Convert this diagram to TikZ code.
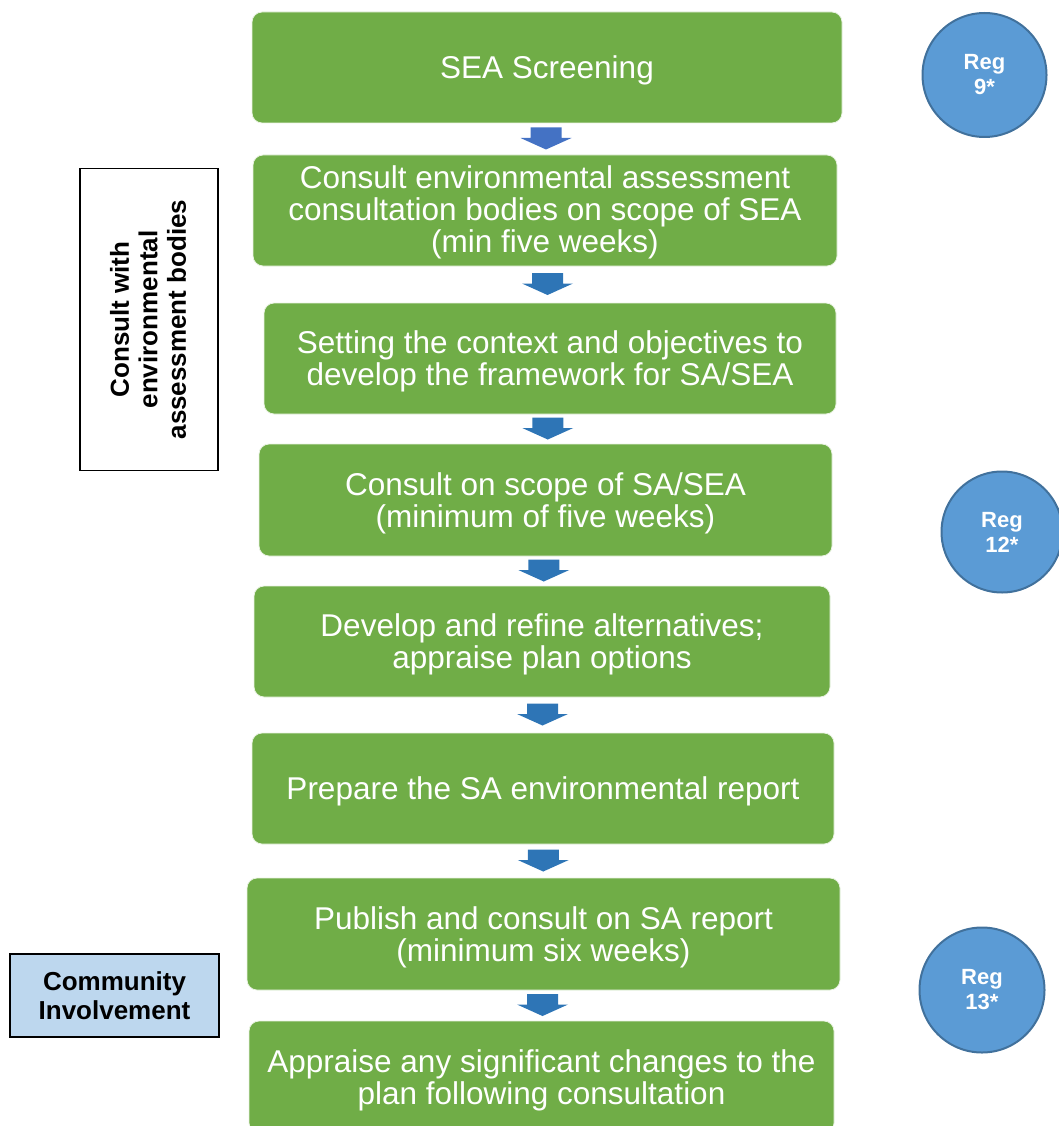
\documentclass[tikz,border=0pt]{standalone}
\usepackage{fontspec}
\setmainfont{Liberation Sans}
\usetikzlibrary{calc}
\definecolor{boxgreen}{HTML}{70AD47}
\definecolor{arrblue}{HTML}{2E75B6}
\definecolor{arrblueA}{HTML}{4472C4}
\definecolor{regfill}{HTML}{5B9BD5}
\definecolor{regline}{HTML}{41719C}
\definecolor{commfill}{HTML}{BDD7EE}
\begin{document}
\begin{tikzpicture}[x=1pt,y=-1pt,
  stepbox/.style={draw=white!85!boxgreen,line width=0.8pt,fill=boxgreen,rounded corners=10pt,inner sep=0pt},
  steptext/.style={text=white,font=\fontsize{31.5}{32}\selectfont,align=center,inner sep=0pt},
  regcircle/.style={circle,draw=regline,line width=2pt,fill=regfill,text=white,
    font=\bfseries\fontsize{22}{25}\selectfont,align=center,inner sep=0pt},
  sidebox/.style={draw=black,line width=1.5pt,font=\bfseries\fontsize{26}{28.5}\selectfont,align=center,inner sep=0pt},
  flowarrow/.style={fill=arrblue}
]
\useasboundingbox (0,0) rectangle (1059,1126);
\clip (0,0) rectangle (1059,1126);

% green step boxes
\node[stepbox,minimum width=590pt,minimum height=111pt] (b1) at (547,67.5) {};
\node[stepbox,minimum width=584pt,minimum height=111pt] (b2) at (545,210.5) {};
\node[stepbox,minimum width=572pt,minimum height=111pt] (b3) at (550,358.5) {};
\node[stepbox,minimum width=573pt,minimum height=112pt] (b4) at (545.5,500) {};
\node[stepbox,minimum width=576pt,minimum height=111pt] (b5) at (542,641.5) {};
\node[stepbox,minimum width=582pt,minimum height=111pt] (b6) at (543,788.5) {};
\node[stepbox,minimum width=593pt,minimum height=112pt] (b7) at (543.5,934) {};
\node[stepbox,minimum width=585pt,minimum height=112pt] (b8) at (541.5,1077) {};

% step texts
\node[steptext] (t1) at ([yshift=-3pt]b1.center) {SEA Screening};
\node[steptext] (t2) at ([yshift=-1.5pt]b2.center) {Consult environmental assessment\\consultation bodies on scope of SEA\\(min five weeks)};
\node[steptext] (t3) at ([yshift=-3pt]b3.center) {Setting the context and objectives to\\develop the framework for SA/SEA};
\node[steptext] (t4) at ([yshift=-3pt]b4.center) {Consult on scope of SA/SEA\\(minimum of five weeks)};
\node[steptext] (t5) at ([yshift=-3pt]b5.center) {Develop and refine alternatives;\\appraise plan options};
\node[steptext] (t6) at ([yshift=-3pt]b6.center) {Prepare the SA environmental report};
\node[steptext] (t7) at ([yshift=-3pt]b7.center) {Publish and consult on SA report\\(minimum six weeks)};
\node[steptext] (t8) at ([yshift=-3pt]b8.center) {Appraise any significant changes to the\\plan following consultation};

% block arrows between steps
\foreach \a/\b/\c in {b1/b2/arrblueA,b2/b3/arrblue,b3/b4/arrblue,b4/b5/arrblue,b5/b6/arrblue,b6/b7/arrblue,b7/b8/arrblue}{
  \fill[\c] let \p1=($(\a.south)!0.5!(\b.north)$) in
    (\x1-15.5pt,\y1+11.5pt) -- (\x1+15.5pt,\y1+11.5pt) -- (\x1+15.5pt,\y1+1pt) -- (\x1+25.5pt,\y1+1pt)
    -- (\x1,\y1-10.5pt) -- (\x1-25.5pt,\y1+1pt) -- (\x1-15.5pt,\y1+1pt) -- cycle;
}

% regulation circles
\node[regcircle,minimum size=124pt] (r9) at (984.5,75) {Reg\\9*};
\node[regcircle,minimum size=121pt] (r12) at (1002,532) {Reg\\12*};
\node[regcircle,minimum size=125pt] (r13) at (982,990) {Reg\\13*};

% side boxes
\node[sidebox,fill=white,minimum width=138pt,minimum height=302pt] (consult) at (149,319.5) {};
\node[font=\bfseries\fontsize{26}{28.5}\selectfont,align=center,rotate=90,inner sep=0pt] (consulttext) at ([xshift=-1pt]consult.center) {Consult with\\environmental\\assessment bodies};
\node[sidebox,fill=commfill,line width=2pt,minimum width=209pt,minimum height=83pt] (comm) at (114.5,995.5) {Community\\Involvement};
\end{tikzpicture}
\end{document}
